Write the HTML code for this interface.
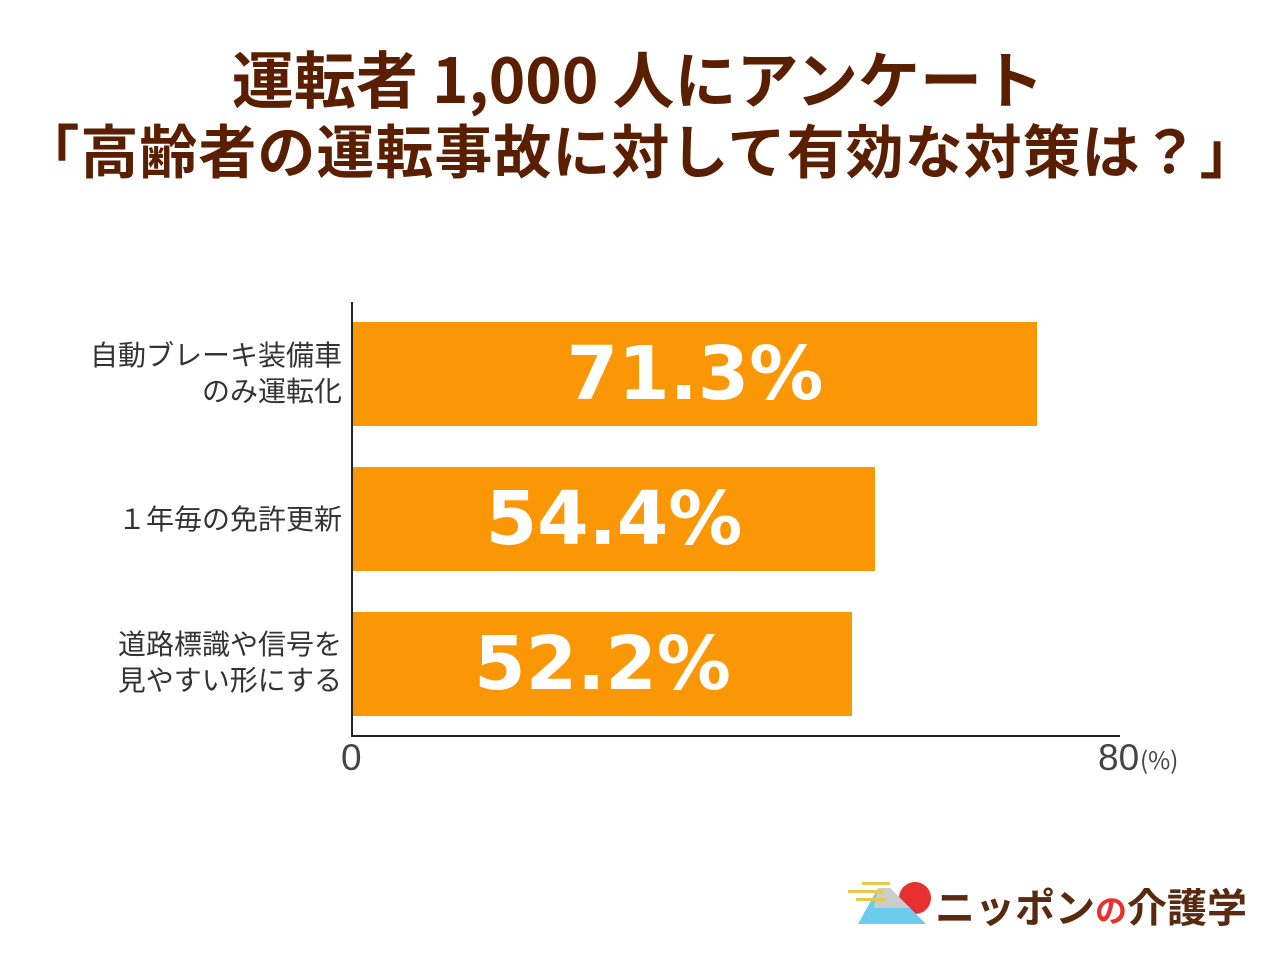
<!DOCTYPE html>
<html><head><meta charset="utf-8"><style>
body{margin:0;width:1280px;height:960px;background:#fff;position:relative;overflow:hidden;font-family:"Liberation Sans","Noto Sans CJK JP",sans-serif}
.t{position:absolute;left:0;width:1280px;text-align:center;color:#5a1e00;font-weight:bold;font-family:"Noto Sans CJK JP",sans-serif;white-space:nowrap}
.bar{position:absolute;left:353px;height:104px;background:#fb9604}
.v{position:absolute;color:#fff;font-weight:bold;font-size:74px;line-height:104px;text-align:center;font-family:"DejaVu Sans",sans-serif}
.lab{position:absolute;right:938px;text-align:right;color:#333;font-size:28px;line-height:36px;font-family:"Noto Sans CJK JP",sans-serif;white-space:nowrap}
.ax{position:absolute;background:#222}
.tick{position:absolute;color:#444;font-size:37px;font-family:"Liberation Sans",sans-serif}
</style></head><body>
<div class="t" style="top:36px;font-size:62px;line-height:80px;left:-2px">運転者 1,000 人にアンケート</div>
<div class="t" style="top:108px;font-size:58px;line-height:80px;letter-spacing:1px">「高齢者の運転事故に対して有効な対策は？」</div>

<div class="ax" style="left:351px;top:302px;width:2px;height:435px"></div>
<div class="ax" style="left:351px;top:735px;width:769px;height:2px"></div>

<div class="bar" style="top:322px;width:684px"></div>
<div class="v" style="top:322px;left:353px;width:684px">71.3%</div>
<div class="bar" style="top:467px;width:522px"></div>
<div class="v" style="top:467px;left:353px;width:522px">54.4%</div>
<div class="bar" style="top:612px;width:499px"></div>
<div class="v" style="top:612px;left:353px;width:499px">52.2%</div>

<div class="lab" style="top:336px">自動ブレーキ装備車<br>のみ運転化</div>
<div class="lab" style="top:500px">１年毎の免許更新</div>
<div class="lab" style="top:625px">道路標識や信号を<br>見やすい形にする</div>

<div class="tick" style="left:341px;top:737px">0</div>
<div class="tick" style="left:1098px;top:737px">80</div>
<div style="position:absolute;left:1140px;top:741px;font-size:24px;color:#444;font-family:'Noto Sans CJK JP',sans-serif">(%)</div>

<svg style="position:absolute;left:848px;top:878px" width="90" height="50">
<circle cx="67" cy="20" r="16" fill="#e8302f"/>
<polygon points="10,46 78,46 62,30 42,10 30,10" fill="#6cccee"/>
<polygon points="30,10 42,10 62,30 26,30" fill="#ccc"/>
<rect x="0" y="12" width="35" height="3" fill="#e8c94a"/><rect x="8" y="20" width="30" height="3" fill="#e8c94a"/><rect x="14" y="4" width="28" height="3" fill="#e8c94a"/>
</svg>
<div style="position:absolute;left:935px;top:880px;font-size:40px;line-height:50px;color:#5a2a10;font-weight:bold;font-family:'Noto Sans CJK JP',sans-serif;letter-spacing:0px;white-space:nowrap">ニッポン<span style="color:#e8302f;font-size:32px">の</span>介護学</div>
</body></html>
